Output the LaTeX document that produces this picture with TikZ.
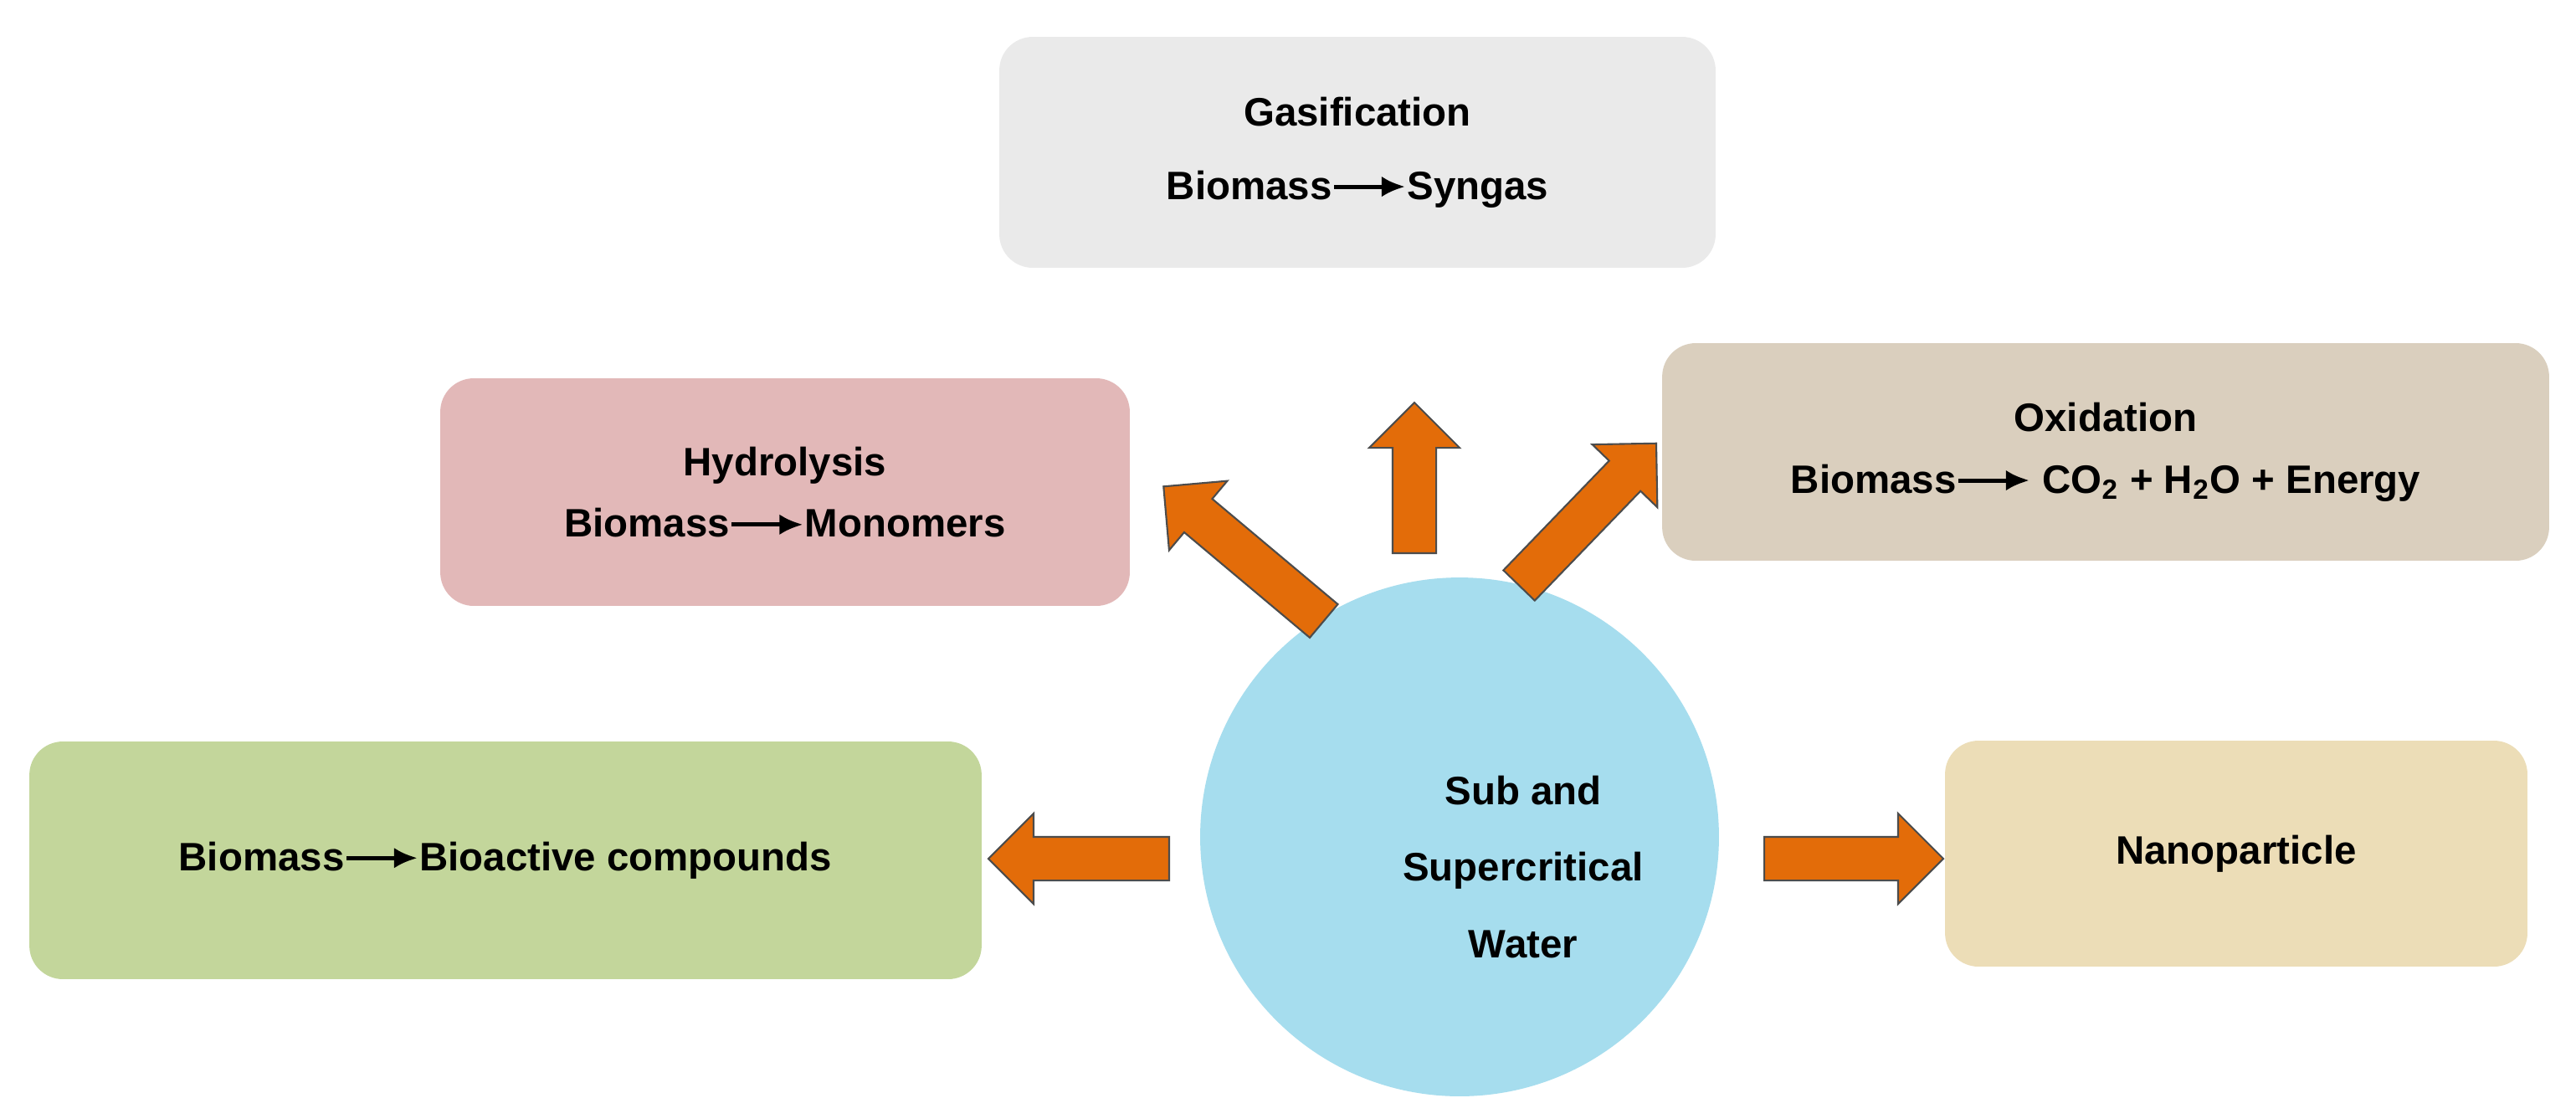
\documentclass[tikz,border=0pt]{standalone}
\usepackage{fontspec}
\setmainfont{Liberation Sans}
\usetikzlibrary{shapes.arrows,arrows.meta}
\newcommand{\rxn}{\tikz[baseline=-0.6ex,x=1cm,y=1cm]\draw[line width=1.4pt,-{Latex[length=8pt,width=7pt]}] (0,0)--(0.85,0);}
\tikzset{
 box/.style={rounded corners=0.4cm,inner sep=0pt,font=\fontsize{13.5}{21}\selectfont\bfseries,align=center},
 blk/.style={single arrow,draw=black!70,line width=0.6pt,fill={rgb,255:red,227;green,108;blue,9},inner xsep=0pt,inner ysep=0.25cm,single arrow head extend=0.28cm,single arrow head indent=0cm}
}
\begin{document}
\begin{tikzpicture}[x=0.02cm,y=-0.02cm]
\useasboundingbox[fill=white] (0,0) rectangle (1539,655.5);
\node[box,fill={rgb,255:red,234;green,234;blue,234},minimum width=8.56cm,minimum height=2.76cm] (gas) at (811,91) {Gasification\\[4pt]Biomass\rxn Syngas};
\node[box,fill={rgb,255:red,226;green,184;blue,184},minimum width=8.24cm,minimum height=2.72cm] (hyd) at (469,294) {Hydrolysis\\Biomass\rxn Monomers};
\node[box,fill={rgb,255:red,218;green,207;blue,190},minimum width=10.6cm,minimum height=2.6cm] (oxi) at (1258,270) {Oxidation\\Biomass\rxn\ CO\textsubscript{2} + H\textsubscript{2}O + Energy};
\node[box,fill={rgb,255:red,195;green,214;blue,155},minimum width=11.38cm,minimum height=2.84cm] (bio) at (302,514) {Biomass\rxn Bioactive compounds};
\node[box,fill={rgb,255:red,236;green,221;blue,183},minimum width=6.96cm,minimum height=2.7cm] (nano) at (1336,510) {Nanoparticle};
\node[circle,fill={rgb,255:red,166;green,221;blue,238},minimum size=6.2cm,inner sep=0pt] (water) at (872,500) {};
\node[box,font=\fontsize{13.5}{26}\selectfont\bfseries] (wtxt) at (910,518) {Sub and\\Supercritical\\Water};
\node[blk,minimum height=1.8cm,rotate=90] (a1) at (845,292) {};
\node[blk,minimum height=2.5cm,rotate=140] (a2) at (748,335) {};
\node[blk,minimum height=2.36cm,rotate=46] (a3) at (944,312) {};
\node[blk,minimum height=2.16cm,rotate=180] (a4) at (651,513) {};
\node[blk,minimum height=2.14cm] (a5) at (1101,513) {};
\end{tikzpicture}
\end{document}
